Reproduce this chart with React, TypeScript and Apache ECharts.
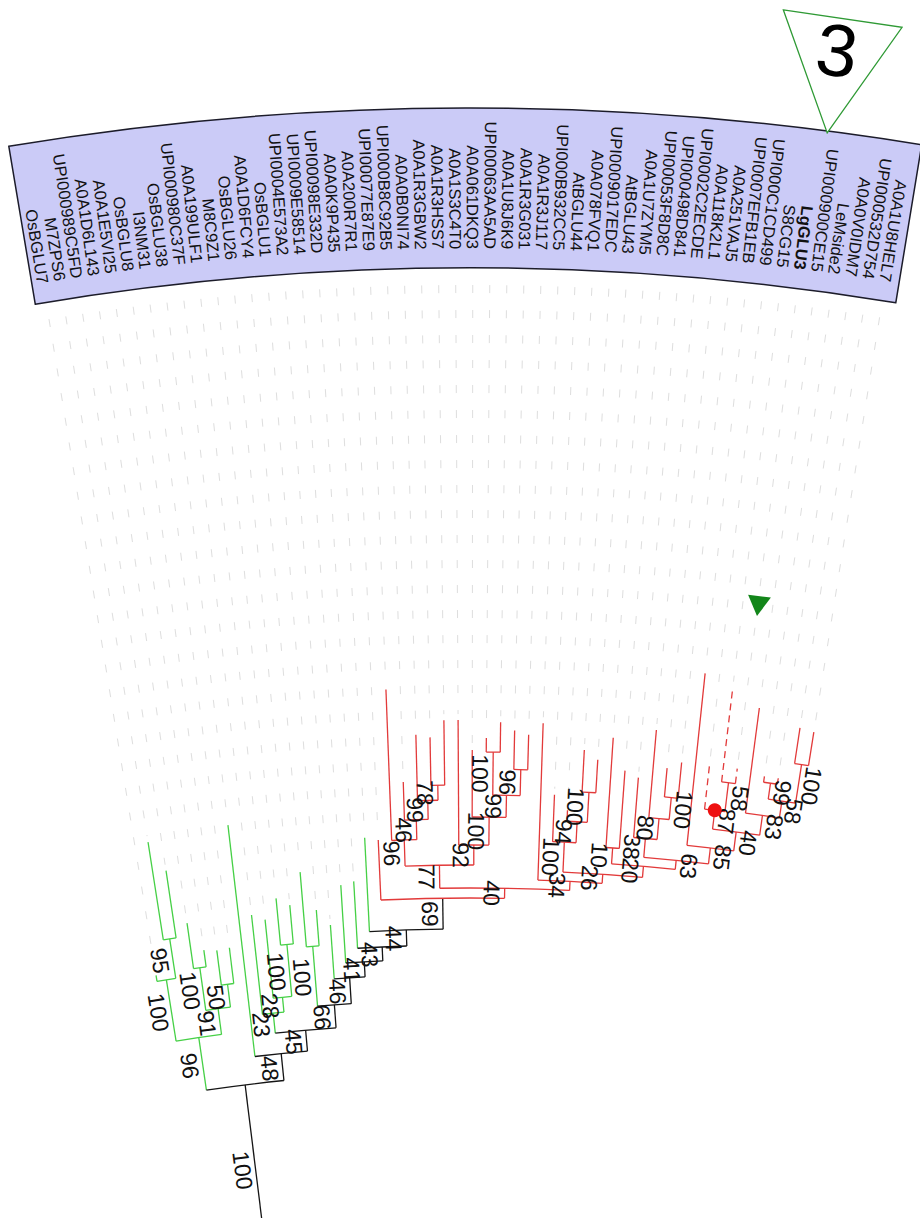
import React, { useEffect, useRef } from 'react';
import * as echarts from 'echarts';

// ---------------- data ----------------
const leafNames = [
  'OsBGLU7', 'M7ZPS6', 'UPI000989C5FD', 'A0A1D6L143', 'A0A1E5VI25', 'OsBGLU8', 'I3NM31', 'OsBGLU38',
  'UPI000980C37F', 'A0A199ULF1', 'M8C9Z1', 'OsBGLU26', 'A0A1D6FCY4', 'OsBGLU1', 'UPI0004E573A2',
  'UPI0009E58514', 'UPI00098E332D', 'A0A0K9P435', 'A0A200R7R1', 'UPI00077E87E9', 'UPI000B8C92B5',
  'A0A0B0NI74', 'A0A1R3GBW2', 'A0A1R3HSS7', 'A0A1S3C4T0', 'A0A061DKQ3', 'UPI00063AA5AD', 'A0A1U8J6K9',
  'A0A1R3G031', 'A0A1R3J117', 'UPI000B932CC5', 'AtBGLU44', 'A0A078FVQ1', 'UPI0009017EDC', 'AtBGLU43',
  'A0A1U7ZYM5', 'UPI00053F8D8C', 'UPI000498D841', 'UPI0002C2ECDE', 'A0A118K2L1', 'A0A251VAJ5',
  'UPI0007EFB1EB', 'UPI000C1CD499', 'S8CG15', 'LgGLU3', 'UPI000900CE15', 'LeMside2', 'A0A0V0IDM7',
  'UPI000532D754', 'A0A1U8HEL7',
];

// radial position of each tip (distance from the fan centre)
const leafTipR = [
  1950, 2083, 2052, 1997, 1968, 1966, 1967, 2089, 1997, 1991, 2011, 2003, 2035, 1996, 1980, 2019, 2022, 2065,
  2062, 2212, 2119, 2166, 2163, 2180, 2180, 2150, 2162, 2178, 2170, 2166, 2178, 2107, 2092, 2153, 2144,
  2167, 2135, 2129, 2178, 2141, 2148, 2239, 2151, 2228, 2148, 2211, 2144, 2144, 2197, 2195,
];

// clade of each leaf: g = green group, r = red group
const leafClade = ('g'.repeat(18) + 'r'.repeat(32)).split('');

// internal nodes: [id, left child, right child, radius, bootstrap]
const internalNodes: [string, number | string, number | string, number, number][] = [
  ['N95', 1, 2, 1984, 95],
  ['NA', 0, 'N95', 1944, 100],
  ['G34', 3, 4, 1951, 100],
  ['N50', 5, 6, 1931, 50],
  ['N91', 'G34', 'N50', 1908, 91],
  ['B', 'NA', 'N91', 1882, 96],
  ['G1011', 10, 11, 1964, 100],
  ['N28', 9, 'G1011', 1912, 28],
  ['N23', 8, 'N28', 1897, 23],
  ['G1213', 12, 13, 1960, 100],
  ['Na78', 22, 23, 2115, 78],
  ['Nb99', 21, 'Na78', 2100, 99],
  ['Nc46', 20, 'Nb99', 2081, 46],
  ['Nd96', 19, 'Nc46', 2061, 96],
  ['N100a', 26, 27, 2148, 100],
  ['N96b', 28, 29, 2131, 96],
  ['N99b', 'N100a', 'N96b', 2105, 99],
  ['N100b', 25, 'N99b', 2083, 100],
  ['N92', 24, 'N100b', 2055, 92],
  ['N77', 'Nd96', 'N92', 2035, 77],
  ['N100c', 33, 34, 2111, 100],
  ['N94', 32, 'N100c', 2081, 94],
  ['N100d', 31, 'N94', 2060, 100],
  ['N10', 35, 36, 2057, 10],
  ['N100e', 39, 40, 2112, 100],
  ['N80', 38, 'N100e', 2090, 80],
  ['N38', 37, 'N80', 2069, 38],
  ['N100f', 48, 49, 2161, 100],
  ['N99c', 46, 47, 2138, 99],
  ['N58b', 'N99c', 'N100f', 2122, 58],
  ['N83', 45, 'N58b', 2105, 83],
  ['N58a', 43, 44, 2133, 58],
  ['N87', 42, 'N58a', 2104, 87],
  ['N40b', 'N87', 'N83', 2085, 40],
  ['N85', 41, 'N40b', 2066, 85],
  ['N63', 'N38', 'N85', 2050, 63],
  ['N20', 'N10', 'N63', 2041, 20],
  ['N26', 'N100d', 'N20', 2030, 26],
  ['N34', 30, 'N26', 2021, 34],
  ['N40', 'N77', 'N34', 2012, 40],
  ['R69', 18, 'N40', 2002, 69],
  ['N44', 17, 'R69', 1971, 44],
  ['N43', 16, 'N44', 1955, 43],
  ['N41', 15, 'N43', 1941, 41],
  ['N46', 14, 'N41', 1926, 46],
  ['N66', 'G1213', 'N46', 1900, 66],
  ['N45', 'N23', 'N66', 1877, 45],
  ['N48', 7, 'N45', 1856, 48],
  ['ROOT', 'B', 'N48', 1829, 100],
];

const dashedLeaves = [42, 43, 44];
const boldLeaves = [44];
const markedNode = 'N87';
const flagMark = { r: 2312, a: 44.04 };
const calloutTriangle: [number, number][] = [[2907, 41.43], [2905, 47.77], [2790, 44.56]];
const calloutText = { text: '3', r: 2873, a: 44.51 };

// ---------------- geometry / style constants ----------------
const CENTER = [470, 2900];
const R_MAX = 3000;
const LEAF_STEP_DEG = 0.373;
const FIRST_LEAF_DEG = -9.265;
const ROOT_STEM_END = 1660;
const LABEL_END_R = 2651;
const GUIDE_START_R = 2615;
const BAND = { r0: 2632, r1: 2792, a0: -0.65, a1: 49.8 };
const RIGHT_SIDE_FROM = 39;
const BLACK_STEMS = ['R69'];
const COLORS: Record<string, string> = { g: '#46d046', r: '#e23a3a', k: '#151515' };
const COLOR_KEYS = ['g', 'r', 'k'];
const FONT = "'Liberation Sans', Arial, Helvetica, sans-serif";

// ---------------- layout ----------------
const nodeMap = new Map(internalNodes.map((n) => [n[0], n]));
const key = (c: number | string) => (typeof c === 'number' ? 'L' + c : c);
const parentR = new Map<string, number>();
internalNodes.forEach((n) => {
  parentR.set(key(n[1]), n[3]);
  parentR.set(key(n[2]), n[3]);
});
const angleCache = new Map<string, number>();
function angleOf(c: number | string): number {
  if (typeof c === 'number') return c;
  if (angleCache.has(c)) return angleCache.get(c)!;
  const n = nodeMap.get(c)!;
  const a = (angleOf(n[1]) + angleOf(n[2])) / 2;
  angleCache.set(c, a);
  return a;
}
const cladeCache = new Map<string, string>();
function cladeOf(c: number | string): string {
  if (typeof c === 'number') return leafClade[c];
  if (cladeCache.has(c)) return cladeCache.get(c)!;
  const n = nodeMap.get(c)!;
  const a = cladeOf(n[1]);
  const b = cladeOf(n[2]);
  const res = a === b ? a : 'k';
  cladeCache.set(c, res);
  return res;
}

const stemData: number[][] = [];
leafTipR.forEach((r, i) => {
  stemData.push([r, i, parentR.get('L' + i)!, COLOR_KEYS.indexOf(cladeOf(i)), dashedLeaves.includes(i) ? 1 : 0]);
});
internalNodes.forEach((n) => {
  const pr = parentR.has(n[0]) ? parentR.get(n[0])! : ROOT_STEM_END;
  const ck = BLACK_STEMS.includes(n[0]) ? 'k' : cladeOf(n[0]);
  stemData.push([n[3], angleOf(n[0]), pr, COLOR_KEYS.indexOf(ck), 0]);
});
const connectorData = internalNodes.map((n) => [n[3], angleOf(n[1]), angleOf(n[2]), COLOR_KEYS.indexOf(cladeOf(n[0]))]);
const bootstrapData = internalNodes.map((n) => {
  const pr = parentR.has(n[0]) ? parentR.get(n[0])! : ROOT_STEM_END;
  const a = angleOf(n[0]);
  return [(n[3] + pr) / 2, a, n[4], a >= RIGHT_SIDE_FROM ? 1 : -1];
});
const labelData = leafNames.map((_, i) => [LABEL_END_R, i]);
const guideData = leafTipR.map((r, i) => [r, i]);
const marked = nodeMap.get(markedNode)!;

// ---------------- helpers on api ----------------
function geo(api: any, r: number, a: number) {
  const c = api.coord([0, 0]);
  const p = api.coord([r, a]);
  const dx = p[0] - c[0];
  const dy = p[1] - c[1];
  return { c, p, phi: Math.atan2(dy, dx), rad: Math.sqrt(dx * dx + dy * dy), theta: Math.atan2(dx, -dy) };
}

export default function App() {
  const ref = useRef<HTMLDivElement>(null);
  useEffect(() => {
    if (!ref.current) return;
    const chart = echarts.init(ref.current, null, { renderer: 'svg' });
    const option: any = {
      animation: false,
      backgroundColor: '#ffffff',
      polar: { center: CENTER, radius: R_MAX },
      angleAxis: {
        type: 'value', min: 0, max: 360 / LEAF_STEP_DEG, startAngle: 90 - FIRST_LEAF_DEG, clockwise: true,
        show: false, axisLine: { show: false }, axisLabel: { show: false }, splitLine: { show: false }, axisTick: { show: false },
      },
      radiusAxis: {
        type: 'value', min: 0, max: R_MAX, show: false,
        axisLine: { show: false }, axisLabel: { show: false }, splitLine: { show: false }, axisTick: { show: false },
      },
      series: [
        {
          type: 'custom', coordinateSystem: 'polar', silent: true, z: 1,
          data: [[BAND.r0, BAND.r1, BAND.a0, BAND.a1]],
          renderItem: (params: any, api: any) => {
            const g0 = geo(api, api.value(0), api.value(2));
            const g1 = geo(api, api.value(1), api.value(3));
            return {
              type: 'sector',
              shape: { cx: g0.c[0], cy: g0.c[1], r0: g0.rad, r: g1.rad, startAngle: g0.phi, endAngle: g1.phi, clockwise: true },
              style: { fill: '#cbcbf7', stroke: '#1c1c2a', lineWidth: 1.5 },
            };
          },
        },
        {
          type: 'custom', coordinateSystem: 'polar', silent: true, z: 2,
          data: guideData,
          renderItem: (params: any, api: any) => {
            const a = geo(api, GUIDE_START_R, api.value(1));
            const b = geo(api, api.value(0) + 6, api.value(1));
            return {
              type: 'line',
              shape: { x1: a.p[0], y1: a.p[1], x2: b.p[0], y2: b.p[1] },
              style: { stroke: '#dedede', lineWidth: 1, lineDash: [8, 17] },
            };
          },
        },
        {
          type: 'custom', coordinateSystem: 'polar', silent: true, z: 3,
          data: stemData,
          renderItem: (params: any, api: any) => {
            const a = geo(api, api.value(2), api.value(1));
            const b = geo(api, api.value(0), api.value(1));
            return {
              type: 'line',
              shape: { x1: a.p[0], y1: a.p[1], x2: b.p[0], y2: b.p[1] },
              style: { stroke: COLORS[COLOR_KEYS[api.value(3)]], lineWidth: 1.3, lineDash: api.value(4) ? [7, 5] : null },
            };
          },
        },
        {
          type: 'custom', coordinateSystem: 'polar', silent: true, z: 3,
          data: connectorData,
          renderItem: (params: any, api: any) => {
            const a = geo(api, api.value(0), api.value(1));
            const b = geo(api, api.value(0), api.value(2));
            return {
              type: 'arc',
              shape: { cx: a.c[0], cy: a.c[1], r: a.rad, startAngle: a.phi, endAngle: b.phi, clockwise: true },
              style: { stroke: COLORS[COLOR_KEYS[api.value(3)]], lineWidth: 1.3, fill: 'none' },
            };
          },
        },
        {
          type: 'custom', coordinateSystem: 'polar', silent: true, z: 4,
          data: bootstrapData,
          renderItem: (params: any, api: any) => {
            const g = geo(api, api.value(0), api.value(1));
            const side = api.value(3);
            const lx = -Math.cos(g.theta);
            const ly = -Math.sin(g.theta);
            const off = 1.5;
            return {
              type: 'text',
              x: g.p[0] + (side < 0 ? lx * off : -lx * off),
              y: g.p[1] + (side < 0 ? ly * off : -ly * off),
              rotation: -(Math.PI / 2 + g.theta),
              style: {
                text: String(api.value(2)), fontSize: 23, fontFamily: FONT, fill: '#111111',
                align: 'center', verticalAlign: side < 0 ? 'top' : 'bottom',
              },
            };
          },
        },
        {
          type: 'custom', coordinateSystem: 'polar', silent: true, z: 5,
          data: labelData,
          renderItem: (params: any, api: any) => {
            const i = params.dataIndex;
            const g = geo(api, api.value(0), api.value(1));
            return {
              type: 'text',
              x: g.p[0], y: g.p[1],
              rotation: -(Math.PI / 2 + g.theta),
              style: {
                text: leafNames[i], fontSize: 16.5, fontFamily: FONT, fill: '#111111',
                fontWeight: boldLeaves.includes(i) ? 'bold' : 'normal',
                align: 'right', verticalAlign: 'middle',
              },
            };
          },
        },
        {
          type: 'custom', coordinateSystem: 'polar', silent: true, z: 6,
          data: [[marked[3], angleOf(markedNode)]],
          renderItem: (params: any, api: any) => {
            const g = geo(api, api.value(0), api.value(1));
            return { type: 'circle', shape: { cx: g.p[0], cy: g.p[1], r: 7 }, style: { fill: '#ee1010' } };
          },
        },
        {
          type: 'custom', coordinateSystem: 'polar', silent: true, z: 6,
          data: [[flagMark.r, flagMark.a]],
          renderItem: (params: any, api: any) => {
            const g = geo(api, api.value(0), api.value(1));
            const ux = -Math.sin(g.theta);
            const uy = Math.cos(g.theta);
            const tx = Math.cos(g.theta);
            const ty = Math.sin(g.theta);
            const h = 10;
            const w = 11.5;
            const pts = [
              [g.p[0] + ux * h, g.p[1] + uy * h],
              [g.p[0] - ux * h + tx * w, g.p[1] - uy * h + ty * w],
              [g.p[0] - ux * h - tx * w, g.p[1] - uy * h - ty * w],
            ];
            return { type: 'polygon', shape: { points: pts }, style: { fill: '#13861a' } };
          },
        },
        {
          type: 'custom', coordinateSystem: 'polar', silent: true, z: 6,
          data: [calloutTriangle.flat()],
          renderItem: (params: any, api: any) => {
            const pts = [0, 1, 2].map((k) => geo(api, api.value(2 * k), api.value(2 * k + 1)).p);
            return { type: 'polygon', shape: { points: pts }, style: { fill: '#ffffff', stroke: '#2f9a35', lineWidth: 1.3 } };
          },
        },
        {
          type: 'custom', coordinateSystem: 'polar', silent: true, z: 7,
          data: [[calloutText.r, calloutText.a]],
          renderItem: (params: any, api: any) => {
            const g = geo(api, api.value(0), api.value(1));
            return {
              type: 'text', x: g.p[0], y: g.p[1], rotation: -g.theta,
              style: { text: calloutText.text, fontSize: 74, fontFamily: FONT, fill: '#000000', align: 'center', verticalAlign: 'middle' },
            };
          },
        },
      ],
    };
    chart.setOption(option);
    return () => chart.dispose();
  }, []);
  return (
    <div
      ref={ref}
      style={{ position: 'fixed', left: 0, top: 0, width: 920, height: 1218, background: '#ffffff' }}
    />
  );
}
